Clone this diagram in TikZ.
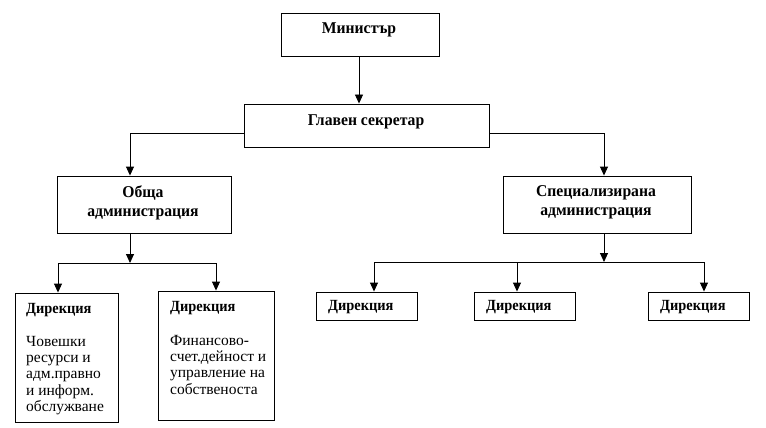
\documentclass[tikz,border=0pt]{standalone}
\usepackage{fontspec}
\usepackage{graphicx}
\setmainfont{Liberation Serif}
\usetikzlibrary{arrows.meta}
\newcommand{\sq}[1]{\scalebox{0.95}[1]{#1}}
\newcommand{\sqd}[1]{\scalebox{0.93}[1]{#1}}
\tikzset{
  boxst/.style={draw, line width=0.9pt, inner sep=0pt},
  titlest/.style={font=\fontsize{16.5}{19}\selectfont\bfseries, align=center, inner sep=0pt},
  dirst/.style={font=\fontsize{15.5}{16}\selectfont\bfseries, anchor=west, inner sep=0pt},
  bodyst/.style={font=\fontsize{15.5}{16.3}\selectfont, anchor=north west, align=left, inner sep=0pt},
  conn/.style={line width=0.9pt},
  arr/.style={line width=0.9pt, -{Triangle[width=8pt,length=9pt]}}
}
\begin{document}
\begin{tikzpicture}[x=1pt,y=-1pt]
\useasboundingbox (0,0) rectangle (766,428);
% boxes
\node[boxst, minimum width=158pt, minimum height=43pt] (min) at (360,34.5) {};
\node[titlest] (mint) at (359,30) {\sq{Министър}};
\node[boxst, minimum width=245pt, minimum height=43pt] (gs) at (366.5,125.5) {};
\node[titlest] (gst) at (366,122) {\sq{Главен секретар}};
\node[boxst, minimum width=174pt, minimum height=57pt] (obsh) at (144,204.5) {};
\node[titlest] (obsht) at (143,202.5) {\sq{Обща}\\\sq{администрация}};
\node[boxst, minimum width=188pt, minimum height=57pt] (spec) at (597,204.5) {};
\node[titlest] (spect) at (596,202.5) {\sq{Специализирана}\\\sq{администрация}};
\node[boxst, minimum width=103pt, minimum height=129pt] (d1) at (66.5,357.5) {};
\node[dirst] (d1h) at (26,310) {\sqd{Дирекция}};
\node[bodyst] (d1b) at (26,336) {Човешки\\ресурси и\\адм.правно\\и информ.\\обслужване};
\node[boxst, minimum width=116pt, minimum height=129pt] (d2) at (216,355.5) {};
\node[dirst] (d2h) at (170,308) {\sqd{Дирекция}};
\node[bodyst] (d2b) at (170,335) {Финансово-\\счет.дейност и\\управление на\\собственоста};
\node[boxst, minimum width=101pt, minimum height=28pt] (d3) at (366.5,306) {};
\node[dirst] (d3h) at (328,307) {\sqd{Дирекция}};
\node[boxst, minimum width=101pt, minimum height=28pt] (d4) at (524.5,306) {};
\node[dirst] (d4h) at (486,307) {\sqd{Дирекция}};
\node[boxst, minimum width=101pt, minimum height=28pt] (d5) at (698.5,306) {};
\node[dirst] (d5h) at (660,307) {\sqd{Дирекция}};
% junctions
\coordinate (j1) at (130,133);
\coordinate (j2) at (604,133);
\coordinate (ob) at (130,263);
\coordinate (obl) at (58,263);
\coordinate (obr) at (216,263);
\coordinate (sp) at (604,262);
\coordinate (spl) at (374,262);
\coordinate (spm) at (517,262);
\coordinate (spr) at (704,262);
% connectors
\draw[arr] (359,0 |- min.south) -- (359,0 |- gs.north);
\draw[arr] (gs.west |- j1) -- (j1) -- (j1 |- obsh.north);
\draw[arr] (gs.east |- j2) -- (j2) -- (j2 |- spec.north);
\draw[arr] (ob |- obsh.south) -- (ob);
\draw[conn] (obl) -- (obr);
\draw[arr] (obl) -- (obl |- d1.north);
\draw[arr] (obr) -- (obr |- d2.north);
\draw[arr] (sp |- spec.south) -- (sp);
\draw[conn] (spl) -- (spr);
\draw[arr] (spl) -- (spl |- d3.north);
\draw[arr] (spm) -- (spm |- d4.north);
\draw[arr] (spr) -- (spr |- d5.north);
\end{tikzpicture}
\end{document}
